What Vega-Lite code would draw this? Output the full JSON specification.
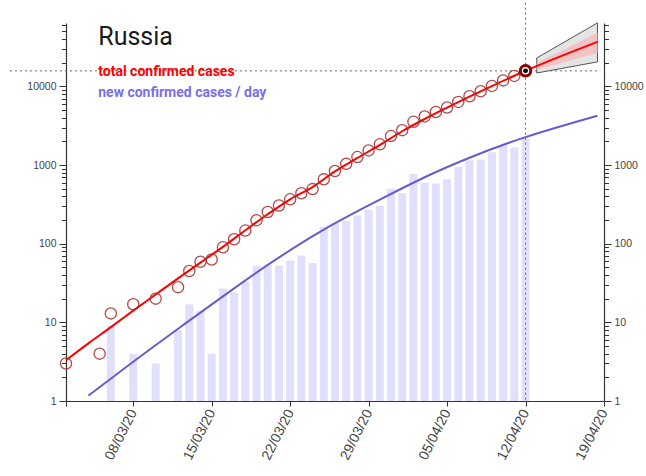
{
  "$schema": "https://vega.github.io/schema/vega-lite/v6.json",
  "width": 538,
  "height": 378,
  "autosize": {"type": "none"},
  "padding": {"left": 66, "top": 23, "right": 42, "bottom": 75},
  "background": "white",
  "config": {
    "view": {"stroke": null},
    "scale": {"continuousPadding": 0},
    "axis": {"grid": false, "labelFont": "Liberation Sans", "labelColor": "#444", "domainColor": "#333", "tickColor": "#333", "domainWidth": 1.2, "tickWidth": 1, "title": null}
  },
  "datasets": {
    "total": [
      {"date": "2020-03-02", "cases": 3}, {"date": "2020-03-05", "cases": 4}, {"date": "2020-03-06", "cases": 13},
      {"date": "2020-03-08", "cases": 17}, {"date": "2020-03-10", "cases": 20}, {"date": "2020-03-12", "cases": 28},
      {"date": "2020-03-13", "cases": 45}, {"date": "2020-03-14", "cases": 59}, {"date": "2020-03-15", "cases": 63},
      {"date": "2020-03-16", "cases": 90}, {"date": "2020-03-17", "cases": 114}, {"date": "2020-03-18", "cases": 147},
      {"date": "2020-03-19", "cases": 199}, {"date": "2020-03-20", "cases": 253}, {"date": "2020-03-21", "cases": 306},
      {"date": "2020-03-22", "cases": 367}, {"date": "2020-03-23", "cases": 438}, {"date": "2020-03-24", "cases": 495},
      {"date": "2020-03-25", "cases": 658}, {"date": "2020-03-26", "cases": 840}, {"date": "2020-03-27", "cases": 1036},
      {"date": "2020-03-28", "cases": 1264}, {"date": "2020-03-29", "cases": 1534}, {"date": "2020-03-30", "cases": 1836},
      {"date": "2020-03-31", "cases": 2337}, {"date": "2020-04-01", "cases": 2777}, {"date": "2020-04-02", "cases": 3548},
      {"date": "2020-04-03", "cases": 4149}, {"date": "2020-04-04", "cases": 4731}, {"date": "2020-04-05", "cases": 5389},
      {"date": "2020-04-06", "cases": 6343}, {"date": "2020-04-07", "cases": 7497}, {"date": "2020-04-08", "cases": 8672},
      {"date": "2020-04-09", "cases": 10131}, {"date": "2020-04-10", "cases": 11917}, {"date": "2020-04-11", "cases": 13584},
      {"date": "2020-04-12", "cases": 15770}
    ],
    "daily": [
      {"date": "2020-03-05", "new": 1}, {"date": "2020-03-06", "new": 9}, {"date": "2020-03-08", "new": 4},
      {"date": "2020-03-10", "new": 3}, {"date": "2020-03-12", "new": 8}, {"date": "2020-03-13", "new": 17},
      {"date": "2020-03-14", "new": 14}, {"date": "2020-03-15", "new": 4}, {"date": "2020-03-16", "new": 27},
      {"date": "2020-03-17", "new": 24}, {"date": "2020-03-18", "new": 33}, {"date": "2020-03-19", "new": 52},
      {"date": "2020-03-20", "new": 54}, {"date": "2020-03-21", "new": 53}, {"date": "2020-03-22", "new": 61},
      {"date": "2020-03-23", "new": 71}, {"date": "2020-03-24", "new": 57}, {"date": "2020-03-25", "new": 163},
      {"date": "2020-03-26", "new": 182}, {"date": "2020-03-27", "new": 196}, {"date": "2020-03-28", "new": 228},
      {"date": "2020-03-29", "new": 270}, {"date": "2020-03-30", "new": 302}, {"date": "2020-03-31", "new": 501},
      {"date": "2020-04-01", "new": 440}, {"date": "2020-04-02", "new": 771}, {"date": "2020-04-03", "new": 601},
      {"date": "2020-04-04", "new": 582}, {"date": "2020-04-05", "new": 658}, {"date": "2020-04-06", "new": 954},
      {"date": "2020-04-07", "new": 1154}, {"date": "2020-04-08", "new": 1175}, {"date": "2020-04-09", "new": 1459},
      {"date": "2020-04-10", "new": 1786}, {"date": "2020-04-11", "new": 1667}, {"date": "2020-04-12", "new": 2186}
    ],
    "fitTotal": [
      {"date": "2020-03-02", "v": 3.3}, {"date": "2020-03-04", "v": 5.4}, {"date": "2020-03-06", "v": 8.7},
      {"date": "2020-03-08", "v": 14.1}, {"date": "2020-03-10", "v": 22.6}, {"date": "2020-03-12", "v": 36.3},
      {"date": "2020-03-14", "v": 57.5}, {"date": "2020-03-16", "v": 91}, {"date": "2020-03-18", "v": 148},
      {"date": "2020-03-20", "v": 237}, {"date": "2020-03-22", "v": 367}, {"date": "2020-03-24", "v": 525},
      {"date": "2020-03-26", "v": 832}, {"date": "2020-03-28", "v": 1230}, {"date": "2020-03-30", "v": 1800},
      {"date": "2020-04-01", "v": 2690}, {"date": "2020-04-03", "v": 3850}, {"date": "2020-04-05", "v": 5370},
      {"date": "2020-04-07", "v": 7410}, {"date": "2020-04-09", "v": 10100}, {"date": "2020-04-11", "v": 13650},
      {"date": "2020-04-12", "v": 15770}, {"date": "2020-04-18T10:00:00Z", "v": 36800}
    ],
    "fitNew": [
      {"date": "2020-03-04", "v": 1.17}, {"date": "2020-03-08", "v": 3.16}, {"date": "2020-03-12", "v": 8.3},
      {"date": "2020-03-16", "v": 21.4}, {"date": "2020-03-20", "v": 53.7}, {"date": "2020-03-25", "v": 151},
      {"date": "2020-03-30", "v": 363}, {"date": "2020-04-03", "v": 700}, {"date": "2020-04-07", "v": 1240},
      {"date": "2020-04-12", "v": 2265}, {"date": "2020-04-18T10:00:00Z", "v": 4236}
    ],
    "band": [
      {"date": "2020-04-13", "lo95": 14800, "hi95": 23000, "lo50": 16300, "hi50": 19900},
      {"date": "2020-04-18T10:00:00Z", "lo95": 20500, "hi95": 64200, "lo50": 26600, "hi50": 47900}
    ],
    "last": [{"date": "2020-04-12", "cases": 15770}]
  },
  "layer": [
    {
      "data": {"name": "daily"},
      "mark": {"type": "bar", "size": 8, "color": "#e0e0fc"},
      "encoding": {
        "x": {"field": "date", "type": "temporal",
          "scale": {"type": "utc", "nice": false, "padding": 0, "domain": [{"year": 2020, "month": 3, "date": 2, "utc": true}, {"year": 2020, "month": 4, "date": 19, "utc": true}]},
          "axis": {"orient": "bottom", "labelAngle": -63, "labelAlign": "right", "labelBaseline": "middle", "labelFontSize": 14, "tickSize": 5, "labelPadding": 4,
            "labelExpr": "utcdate(datum.value) == 2 && utcmonth(datum.value) == 2 ? '' : utcFormat(datum.value, '%d/%m/%y')",
            "values": [
              {"year": 2020, "month": 3, "date": 2, "utc": true},
              {"year": 2020, "month": 3, "date": 8, "utc": true},
              {"year": 2020, "month": 3, "date": 15, "utc": true},
              {"year": 2020, "month": 3, "date": 22, "utc": true},
              {"year": 2020, "month": 3, "date": 29, "utc": true},
              {"year": 2020, "month": 4, "date": 5, "utc": true},
              {"year": 2020, "month": 4, "date": 12, "utc": true},
              {"year": 2020, "month": 4, "date": 19, "utc": true}
            ]}},
        "y": {"field": "new", "type": "quantitative",
          "scale": {"type": "log", "domain": [1, 64000], "nice": false, "padding": 0},
          "axis": {"orient": "left", "format": "d", "labelFontSize": 10.5, "labelPadding": 3,
            "values": [1,2,3,4,5,6,7,8,9,10,20,30,40,50,60,70,80,90,100,200,300,400,500,600,700,800,900,1000,2000,3000,4000,5000,6000,7000,8000,9000,10000,20000,30000,40000,50000,60000],
            "labelExpr": "indexof([1,10,100,1000,10000], datum.value) >= 0 ? datum.label : ''",
            "tickSize": {"condition": {"test": "indexof([1,10,100,1000,10000], datum.value) >= 0", "value": 7}, "value": 4.5}}},
        "y2": {"datum": 1}
      }
    },
    {
      "data": {"name": "last"},
      "mark": {"type": "rule", "color": "#666", "strokeDash": [2, 3], "strokeWidth": 1},
      "encoding": {
        "x": {"field": "date", "type": "temporal"},
        "y": {"datum": 116000, "type": "quantitative", "axis": null},
        "y2": {"datum": 1}
      }
    },
    {
      "data": {"name": "last"},
      "mark": {"type": "rule", "color": "#666", "strokeDash": [2, 3], "strokeWidth": 1},
      "encoding": {
        "x": {"datum": {"year": 2020, "month": 2, "date": 26, "utc": true}, "type": "temporal"},
        "x2": {"datum": {"year": 2020, "month": 4, "date": 18, "hours": 16, "utc": true}},
        "y": {"field": "cases", "type": "quantitative", "axis": null}
      }
    },
    {
      "data": {"name": "band"},
      "mark": {"type": "area", "color": "#e4e4e4", "stroke": "#555", "strokeWidth": 1},
      "encoding": {
        "x": {"field": "date", "type": "temporal"},
        "y": {"field": "lo95", "type": "quantitative", "axis": null},
        "y2": {"field": "hi95"}
      }
    },
    {
      "data": {"name": "band"},
      "mark": {"type": "area", "color": "#f2c2c4"},
      "encoding": {
        "x": {"field": "date", "type": "temporal"},
        "y": {"field": "lo50", "type": "quantitative", "axis": null},
        "y2": {"field": "hi50"}
      }
    },
    {
      "data": {"name": "fitNew"},
      "mark": {"type": "line", "color": "#6a5acd", "strokeWidth": 2, "interpolate": "natural"},
      "encoding": {
        "x": {"field": "date", "type": "temporal"},
        "y": {"field": "v", "type": "quantitative",
          "axis": {"orient": "right", "format": "d", "labelFontSize": 10.5, "labelPadding": 3,
            "values": [1,2,3,4,5,6,7,8,9,10,20,30,40,50,60,70,80,90,100,200,300,400,500,600,700,800,900,1000,2000,3000,4000,5000,6000,7000,8000,9000,10000,20000,30000,40000,50000,60000],
            "labelExpr": "indexof([1,10,100,1000,10000], datum.value) >= 0 ? datum.label : ''",
            "tickSize": {"condition": {"test": "indexof([1,10,100,1000,10000], datum.value) >= 0", "value": 7}, "value": 4.5}}}
      }
    },
    {
      "data": {"name": "fitTotal"},
      "mark": {"type": "line", "color": "#ff0000", "strokeWidth": 2, "interpolate": "monotone"},
      "encoding": {
        "x": {"field": "date", "type": "temporal"},
        "y": {"field": "v", "type": "quantitative", "axis": null}
      }
    },
    {
      "data": {"name": "total"},
      "mark": {"type": "point", "shape": "circle", "size": 125, "stroke": "#a52a2a", "strokeWidth": 1.3, "opacity": 0.85, "filled": false},
      "encoding": {
        "x": {"field": "date", "type": "temporal"},
        "y": {"field": "cases", "type": "quantitative", "axis": null}
      }
    },
    {
      "data": {"name": "last"},
      "mark": {"type": "point", "shape": "circle", "size": 110, "stroke": "#8b0000", "strokeWidth": 3, "fill": "white", "fillOpacity": 1, "filled": false},
      "encoding": {
        "x": {"field": "date", "type": "temporal"},
        "y": {"field": "cases", "type": "quantitative", "axis": null}
      }
    },
    {
      "data": {"name": "last"},
      "mark": {"type": "point", "shape": "circle", "size": 24, "color": "black", "filled": true, "opacity": 1},
      "encoding": {
        "x": {"field": "date", "type": "temporal"},
        "y": {"field": "cases", "type": "quantitative", "axis": null}
      }
    },
    {
      "data": {"values": [{"t": "Russia"}]},
      "mark": {"type": "text", "font": "Roboto", "fontSize": 25, "color": "#1a1a1a", "align": "left", "baseline": "alphabetic"},
      "encoding": {
        "x": {"datum": {"year": 2020, "month": 3, "date": 4, "hours": 21, "utc": true}, "type": "temporal"},
        "y": {"datum": 34000, "type": "quantitative", "axis": null},
        "text": {"field": "t"}
      }
    },
    {
      "data": {"values": [{"t": "total confirmed cases"}]},
      "mark": {"type": "text", "font": "Roboto", "fontSize": 14, "fontWeight": "bold", "color": "#ff0000", "align": "left", "baseline": "alphabetic"},
      "encoding": {
        "x": {"datum": {"year": 2020, "month": 3, "date": 4, "hours": 21, "utc": true}, "type": "temporal"},
        "y": {"datum": 13400, "type": "quantitative", "axis": null},
        "text": {"field": "t"}
      }
    },
    {
      "data": {"values": [{"t": "new confirmed cases / day"}]},
      "mark": {"type": "text", "font": "Roboto", "fontSize": 14, "fontWeight": "bold", "color": "#7b6ee6", "align": "left", "baseline": "alphabetic"},
      "encoding": {
        "x": {"datum": {"year": 2020, "month": 3, "date": 4, "hours": 21, "utc": true}, "type": "temporal"},
        "y": {"datum": 7330, "type": "quantitative", "axis": null},
        "text": {"field": "t"}
      }
    }
  ],
  "resolve": {"axis": {"y": "independent"}}
}
